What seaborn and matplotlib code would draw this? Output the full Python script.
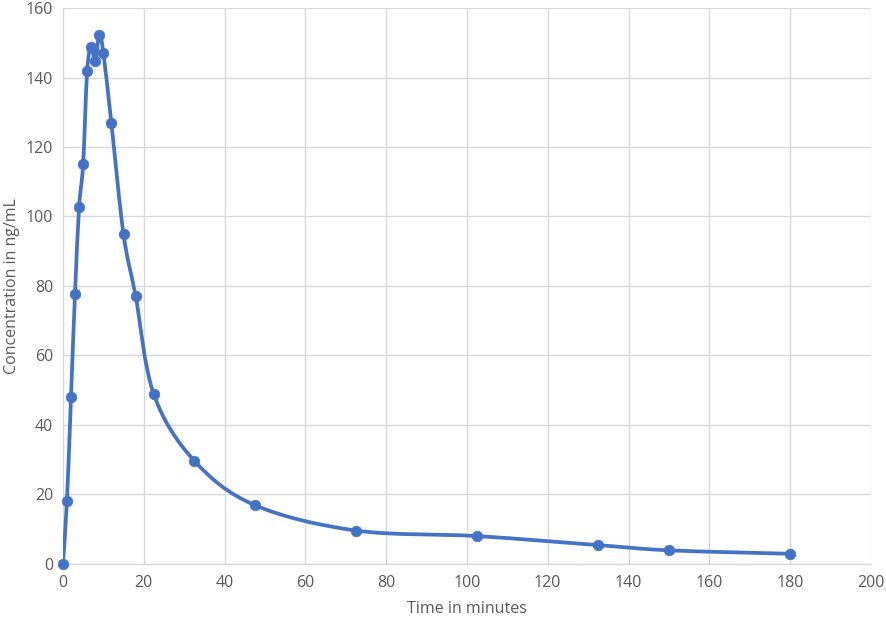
import numpy as np
import pandas as pd
import matplotlib
matplotlib.use("Agg")
import matplotlib.pyplot as plt
from matplotlib.path import Path
from matplotlib.patches import PathPatch
import seaborn as sns

# Data
time_min = [0, 1, 2, 3, 4, 5, 6, 7, 8, 9, 10, 12, 15, 18, 22.5, 32.5, 47.5, 72.5, 102.5, 132.5, 150, 180]
conc_ng_ml = [0, 18.1, 48, 77.8, 102.6, 115, 141.8, 148.8, 144.7, 152.2, 147.2, 126.8, 94.9, 77.1,
              48.8, 29.7, 16.9, 9.6, 8.0, 5.4, 3.9, 2.9]
x_ticks = [0, 20, 40, 60, 80, 100, 120, 140, 160, 180, 200]
y_ticks = [0, 20, 40, 60, 80, 100, 120, 140, 160]

df = pd.DataFrame({"time": time_min, "conc": conc_ng_ml})

sns.set_theme(style="white")
plt.rcParams["font.family"] = ["Open Sans", "DejaVu Sans"]

blue = "#4472C4"
grid_col = "#d9d9d9"
text_col = "#595959"

fig = plt.figure(figsize=(8.86, 6.21), dpi=100)
ax = fig.add_axes([0.071, 0.092, 0.912, 0.895])

# smoothed line (Excel style: Bezier through each point)
pts = df[["time", "conc"]].to_numpy()
n = len(pts)
verts = [pts[0]]
codes = [Path.MOVETO]
for i in range(n - 1):
    p0 = pts[i - 1] if i > 0 else pts[i]
    p1 = pts[i]
    p2 = pts[i + 1]
    p3 = pts[i + 2] if i + 2 < n else pts[i + 1]
    c1 = p1 + (p2 - p0) / 6.0
    c2 = p2 - (p3 - p1) / 6.0
    verts += [c1, c2, p2]
    codes += [Path.CURVE4] * 3
ax.add_patch(PathPatch(Path(verts, codes), facecolor="none", edgecolor=blue,
                       linewidth=2.7, capstyle="round", joinstyle="round", zorder=3))

sns.scatterplot(data=df, x="time", y="conc", ax=ax, color=blue, s=58,
                edgecolor=blue, linewidth=0.5, zorder=4, clip_on=False)

ax.set_xlim(0, 200)
ax.set_ylim(0, 160)
ax.set_xticks(x_ticks)
ax.set_yticks(y_ticks)
ax.grid(True, color=grid_col, linewidth=1.0)
ax.set_axisbelow(True)
for side in ["top", "right", "left"]:
    ax.spines[side].set_visible(False)
ax.spines["bottom"].set_color(grid_col)
ax.spines["bottom"].set_linewidth(1.0)
ax.tick_params(axis="both", length=0, colors=text_col, labelsize=11.5)
ax.tick_params(axis="x", pad=8)
ax.tick_params(axis="y", pad=7)

ax.set_xlabel("Time in minutes", fontsize=11.5, color=text_col, labelpad=7)
ax.set_ylabel("Concentration in ng/mL", fontsize=11.5, color=text_col, labelpad=4)

fig.savefig("out.png", dpi=100)
